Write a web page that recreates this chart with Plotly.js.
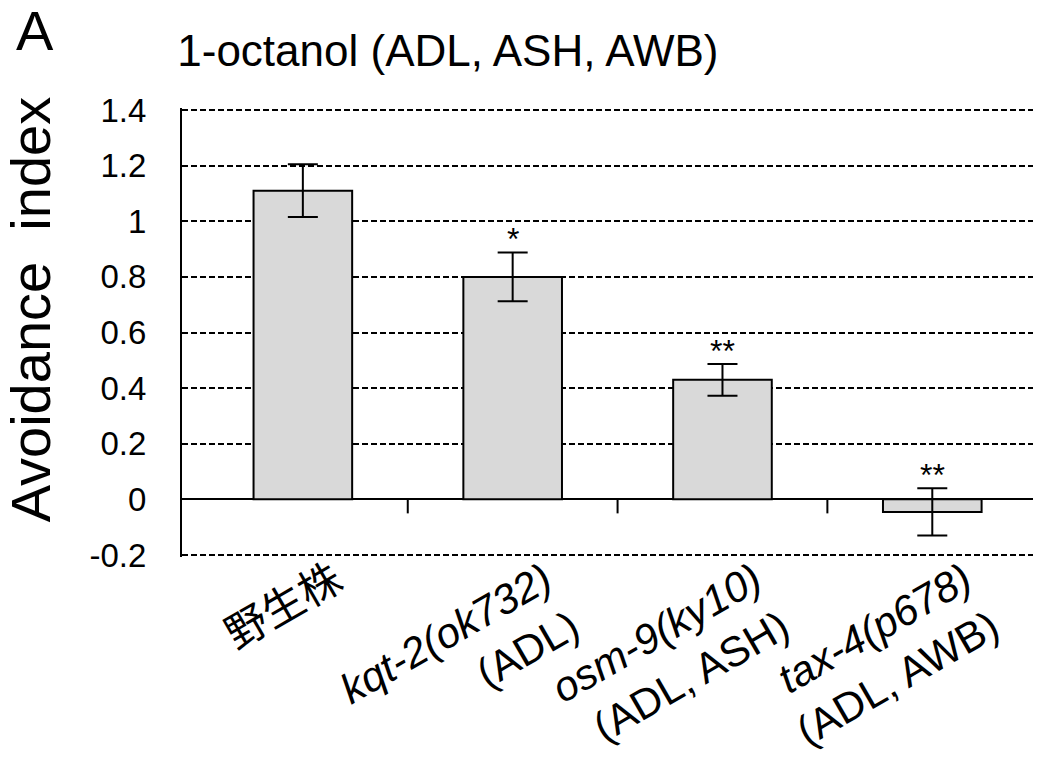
<!DOCTYPE html>
<html>
<head>
<meta charset="utf-8">
<script src="https://cdn.plot.ly/plotly-3.0.1.min.js"></script>
<style>html,body{margin:0;padding:0;background:#fff;}#chart{width:1049px;height:771px;}</style>
</head>
<body>
<div id="chart"></div>
<script>
// ---- data ----
var categories = ["野生株", "kqt-2(ok732) (ADL)", "osm-9(ky10) (ADL, ASH)", "tax-4(p678) (ADL, AWB)"];
var categoryLabels = [
  "野生株",
  "<i>kqt-2(ok732)</i><br>(ADL)",
  "<i>osm-9(ky10)</i><br>(ADL, ASH)",
  "<i>tax-4(p678)</i><br>(ADL, AWB)"
];
var avoidanceIndex = [1.11, 0.80, 0.43, -0.045];
var errorSE = [0.095, 0.088, 0.057, 0.085];
var significance = ["", "*", "**", "**"];
var yTickValues = [-0.2, 0, 0.2, 0.4, 0.6, 0.8, 1, 1.2, 1.4];
var yTickLabels = ["-0.2", "0", "0.2", "0.4", "0.6", "0.8", "1", "1.2", "1.4"];
var chartTitle = "1-octanol (ADL, ASH, AWB)";
var yTitle = "Avoidance\u00a0 index";
var panelLabel = "A";

// ---- chart ----
var font = "Liberation Sans, Arial, Noto Sans CJK JP, sans-serif";

var trace = {
  type: "bar",
  x: categories,
  y: avoidanceIndex,
  marker: {color: "#d9d9d9", line: {color: "#000", width: 2}},
  error_y: {type: "data", array: errorSE, visible: true, color: "#000", thickness: 2, width: 15},
  width: 0.47,
  hoverinfo: "skip"
};

var annotations = [];
significance.forEach(function (s, i) {
  if (!s) return;
  annotations.push({
    xref: "x", yref: "y", x: categories[i], y: avoidanceIndex[i] + errorSE[i],
    text: s, showarrow: false, yanchor: "bottom", yshift: -7,
    font: {family: font, size: 32, color: "#000"}
  });
});
annotations.push({
  xref: "paper", yref: "paper", x: -0.178, y: 0.5506, xanchor: "center", yanchor: "middle",
  text: yTitle, textangle: -90, showarrow: false,
  font: {family: font, size: 56, color: "#000"}
});
annotations.push({
  xref: "paper", yref: "paper", x: -0.197, y: 1.172, xanchor: "left", yanchor: "middle",
  text: panelLabel, showarrow: false,
  font: {family: font, size: 56, color: "#000"}
});

var shapes = [];
for (var i = 0; i < categories.length - 1; i++) {
  shapes.push({
    type: "line", xref: "x", yref: "y", ysizemode: "pixel", yanchor: 0,
    x0: i + 0.5, x1: i + 0.5, y0: 0, y1: -14,
    line: {color: "#000", width: 2}
  });
}

var layout = {
  width: 1049, height: 771,
  margin: {l: 182, r: 16, t: 108, b: 214},
  paper_bgcolor: "#fff", plot_bgcolor: "#fff",
  showlegend: false,
  font: {family: font, color: "#000"},
  title: {
    text: chartTitle, xref: "container", yref: "container",
    x: 0.169, xanchor: "left", y: 0.934, yanchor: "middle",
    font: {family: font, size: 44, color: "#000"}
  },
  xaxis: {
    type: "category",
    range: [-0.576, 3.48],
    tickvals: categories, ticktext: categoryLabels,
    tickangle: -30, ticks: "", showline: false, showgrid: false, zeroline: false,
    tickfont: {family: font, size: 42, color: "#000"},
    ticklabelshift: 32, ticklabelstandoff: -10,
    fixedrange: true
  },
  yaxis: {
    range: [-0.2072, 1.4072],
    tickvals: yTickValues, ticktext: yTickLabels,
    showline: true, linecolor: "#000", linewidth: 2,
    ticks: "", showgrid: true, gridcolor: "#000", gridwidth: 2, griddash: "6px,3px",
    zeroline: true, zerolinecolor: "#000", zerolinewidth: 2,
    tickfont: {family: font, size: 33, color: "#000"},
    ticklabelstandoff: 27,
    fixedrange: true
  },
  annotations: annotations,
  shapes: shapes
};

Plotly.newPlot("chart", [trace], layout, {displayModeBar: false, staticPlot: true});
</script>
</body>
</html>
